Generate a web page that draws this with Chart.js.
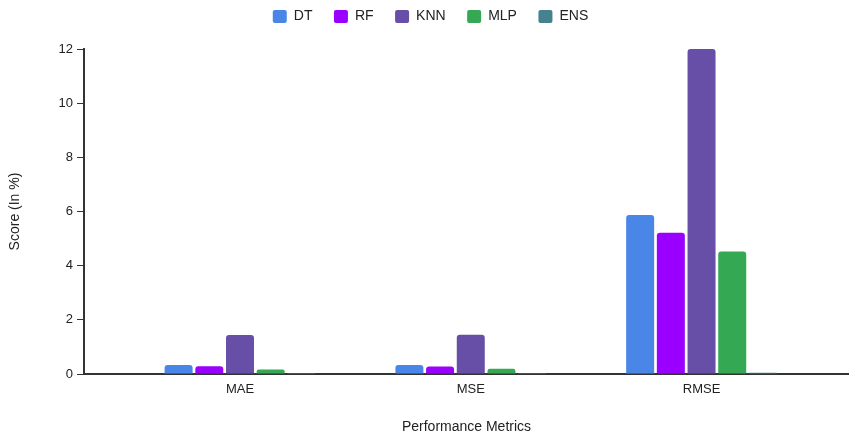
<!DOCTYPE html>
<html>
<head>
<meta charset="utf-8">
<script src="https://cdn.jsdelivr.net/npm/chart.js@4"></script>
<style>
  html, body { margin: 0; padding: 0; background: #fff; }
  #wrap { width: 849px; height: 434px; }
</style>
</head>
<body>
<div id="wrap"><canvas id="myChart"></canvas></div>
<script>
// performance metrics on the x axis
var metrics = ['MAE', 'MSE', 'RMSE']

// scores per model
var dt = [0.33, 0.33, 5.87]
var rf = [0.29, 0.28, 5.22]
var knn = [1.44, 1.45, 12.0]
var mlp = [0.17, 0.19, 4.52]
var ens = [0.04, 0.04, 0.05]

var yTicks = [0, 2, 4, 6, 8, 10, 12]

var models = ['DT', 'RF', 'KNN', 'MLP', 'ENS']
var series = [dt, rf, knn, mlp, ens]
var colors = ['#4a86e8', '#9900ff', '#674ea7', '#34a853', '#45818e']

const ctx = document.getElementById('myChart');
Chart.defaults.font.family = "'Liberation Sans', Arial, sans-serif"
Chart.defaults.font.size = 13
Chart.defaults.color = '#222'

var datasets = []
for (var i = 0; i < models.length; i++) {
  datasets.push({
    label: models[i],
    data: series[i].map(function (v, k) { return { x: k, y: v } }),
    backgroundColor: colors[i],
    borderWidth: 0,
    borderRadius: 3,
    categoryPercentage: 0.665,
    barPercentage: 0.912
  })
}

// legend: keep labels up top but push the plot down, nudge it right a bit
var legendHeight = {
  id: 'legendHeight',
  beforeInit: function (chart) {
    var fit = chart.legend.fit
    chart.legend.fit = function () {
      fit.bind(chart.legend)()
      this.height = 61
    }
  },
  afterLayout: function (chart) {
    chart.legend.left += 6
    chart.legend.right += 6
  }
}

new Chart(ctx, {
  type: 'bar',
  data: { datasets: datasets },
  plugins: [legendHeight],
  options: {
    responsive: true,
    maintainAspectRatio: false,
    animation: false,
    layout: { padding: { top: -12, left: 0, right: 0, bottom: 0 } },
    plugins: {
      legend: {
        position: 'top',
        labels: {
          boxWidth: 14,
          boxHeight: 13,
          padding: 21.5,
          useBorderRadius: true,
          borderRadius: 2,
          color: '#222',
          font: { size: 14 }
        }
      },
      tooltip: { enabled: false }
    },
    scales: {
      x: {
        type: 'linear',
        offset: false,
        min: -0.676,
        max: 2.639,
        afterFit: function (scale) { scale.height = 60 },
        grid: { display: false, drawTicks: false },
        border: { display: true, color: '#333', width: 2 },
        ticks: {
          stepSize: 1,
          includeBounds: false,
          autoSkip: false,
          maxRotation: 0,
          padding: 8,
          callback: function (value) {
            return Number.isInteger(value) ? metrics[value] : ''
          }
        },
        title: {
          display: true,
          text: 'Performance Metrics',
          font: { size: 14 },
          padding: { top: 20, bottom: -2 }
        }
      },
      y: {
        min: 0,
        max: 12,
        afterFit: function (scale) { scale.width = 84 },
        afterBuildTicks: function (scale) {
          scale.ticks = yTicks.map(function (v) { return { value: v } })
        },
        grid: { display: true, drawOnChartArea: false, tickLength: 7, color: '#333' },
        border: { display: true, color: '#333', width: 2 },
        ticks: { padding: 4 },
        title: {
          display: true,
          text: 'Score (In %)',
          font: { size: 14 },
          padding: { top: 6.6, bottom: 0 }
        }
      }
    }
  }
});
</script>
</body>
</html>
